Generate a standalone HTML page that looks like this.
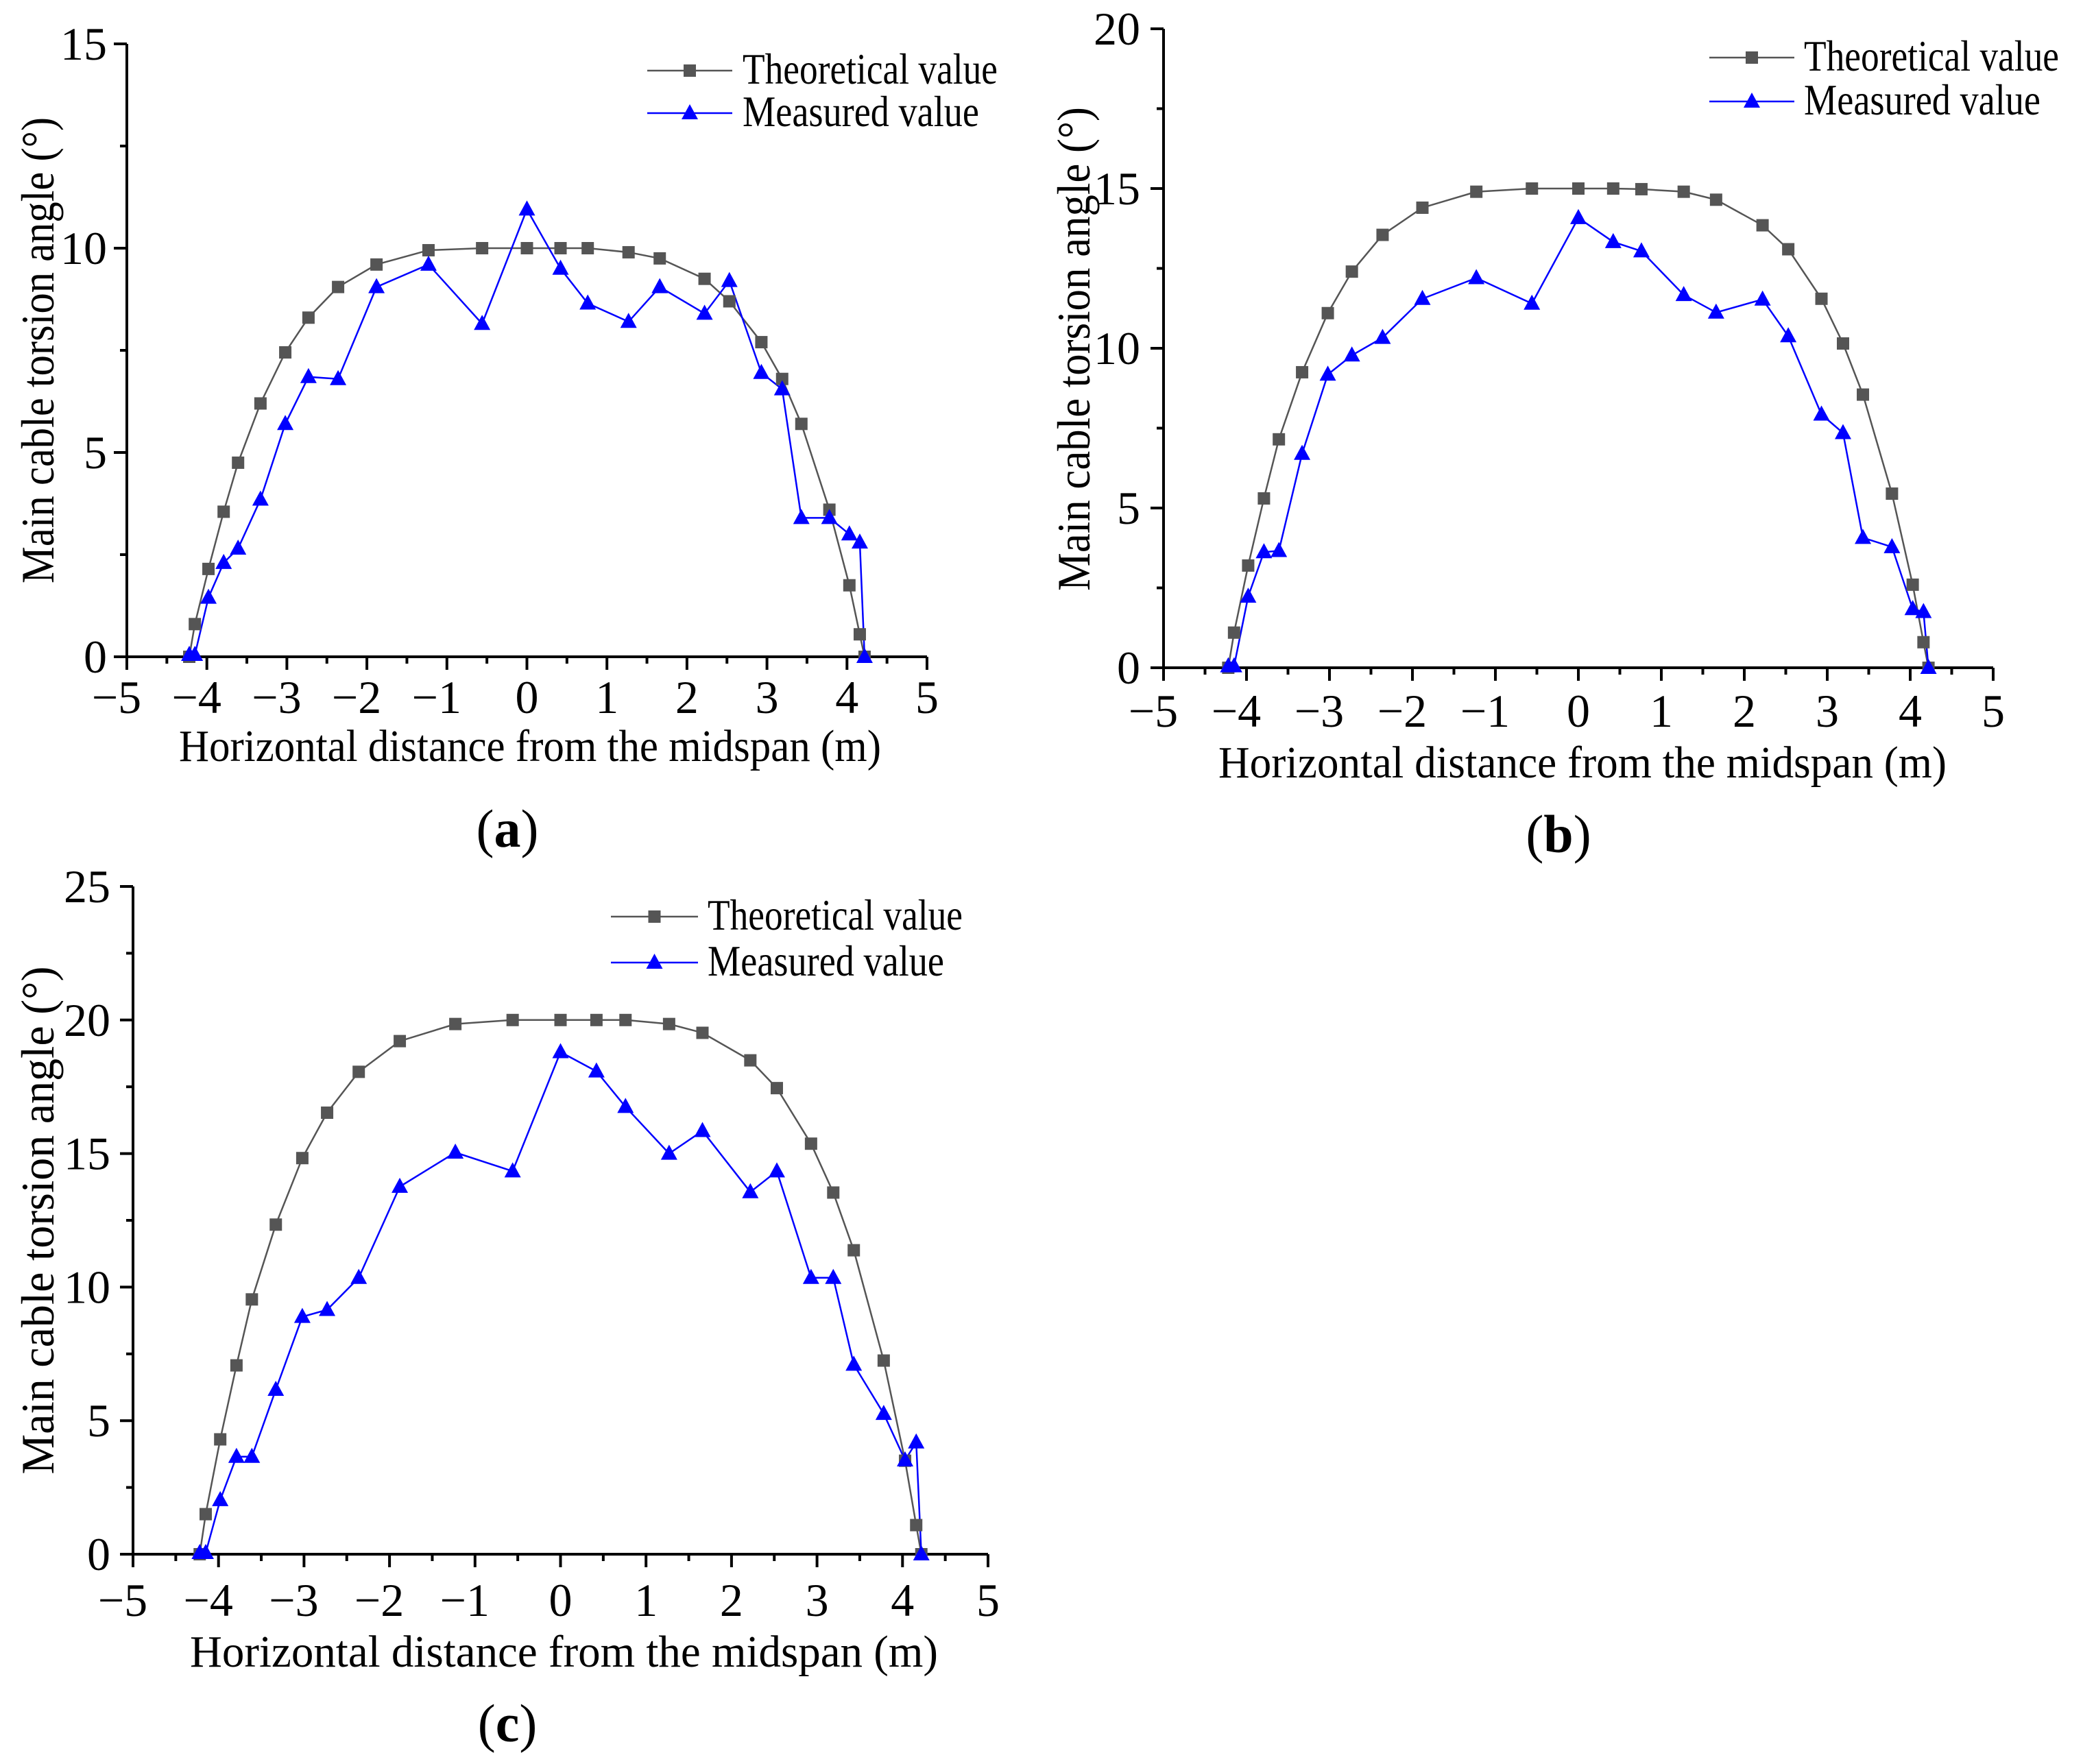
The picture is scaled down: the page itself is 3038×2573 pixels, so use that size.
<!DOCTYPE html>
<html><head><meta charset="utf-8"><style>
html,body{margin:0;padding:0;background:#fff;}
svg{display:block;}
text{font-family:"Liberation Serif","Times New Roman",serif;fill:#000;}
</style></head>
<body>
<svg id="chart" width="3038" height="2573" viewBox="0 0 3038 2573" xmlns="http://www.w3.org/2000/svg"></svg>
<script>
// shared x positions (m)
const xPos = [-4.22,-4.15,-3.98,-3.79,-3.61,-3.33,-3.02,-2.73,-2.36,-1.88,-1.23,-0.56,0,0.42,0.76,1.27,1.66,2.22,2.53,2.93,3.19,3.43,3.78,4.03,4.16,4.22];
// panel (a)
const theoA = [0,0.8,2.15,3.55,4.75,6.2,7.45,8.3,9.05,9.6,9.95,10,10,10,10,9.9,9.75,9.25,8.7,7.7,6.8,5.7,3.6,1.75,0.55,0];
const measA = [0.05,0.05,1.45,2.3,2.65,3.85,5.7,6.85,6.8,9.05,9.6,8.15,10.95,9.5,8.65,8.2,9.05,8.4,9.2,6.95,6.55,3.4,3.4,3.0,2.8,0];
// panel (b)
const theoB = [0,1.1,3.2,5.3,7.15,9.25,11.1,12.4,13.55,14.4,14.9,15,15,15,14.98,14.9,14.65,13.85,13.1,11.55,10.15,8.55,5.45,2.6,0.8,0];
const measB = [0.05,0.05,2.23,3.62,3.66,6.7,9.18,9.78,10.33,11.55,12.2,11.4,14.08,13.33,13.04,11.67,11.12,11.53,10.38,7.93,7.35,4.07,3.78,1.84,1.75,0];
// panel (c)
const theoC = [0,1.5,4.3,7.07,9.54,12.34,14.83,16.53,18.06,19.21,19.85,20,20,20,20,19.85,19.52,18.49,17.45,15.37,13.54,11.38,7.25,3.5,1.09,0];
const measC = [0.05,0.05,2.03,3.65,3.65,6.16,8.89,9.15,10.35,13.76,15.04,14.34,18.8,18.08,16.75,15.0,15.85,13.56,14.34,10.35,10.35,7.1,5.26,3.52,4.19,0];
const xTicks = [-5,-4,-3,-2,-1,0,1,2,3,4,5];
const yTicksA = [0,5,10,15];
const yTicksB = [0,5,10,15,20];
const yTicksC = [0,5,10,15,20,25];

const NS = "http://www.w3.org/2000/svg";
const svg = document.getElementById('chart');
function mk(tag, attrs, parent){
  const e = document.createElementNS(NS, tag);
  for (const k in attrs) e.setAttribute(k, attrs[k]);
  (parent||svg).appendChild(e);
  return e;
}
function fmt(v){ return v<0 ? '\u2212'+Math.abs(v) : String(v); }

function panel(cfg){
  const g = mk('g', {});
  
  
  const xs = v => cfg.xL + (v + 5) / 10 * (cfg.xR - cfg.xL);
  const ys = v => cfg.y0 - v / cfg.yMax * (cfg.y0 - cfg.yTop);
  const xa = mk('line', {x1: cfg.xL - 18, y1: cfg.y0, x2: cfg.xR, y2: cfg.y0, stroke: '#000', 'stroke-width': 4}, g);
  
  
  const ya = mk('line', {x1: cfg.xL, y1: cfg.y0 + 18, x2: cfg.xL, y2: cfg.yTop, stroke: '#000', 'stroke-width': 4}, g);
  
  
  xTicks.forEach((t, i) => {
    mk('line', {x1: xs(t), y1: cfg.y0, x2: xs(t), y2: cfg.y0 + 19, stroke: '#000', 'stroke-width': 4}, g);
    if (i < xTicks.length - 1) mk('line', {x1: xs(t + 0.5), y1: cfg.y0, x2: xs(t + 0.5), y2: cfg.y0 + 10, stroke: '#000', 'stroke-width': 4}, g);
    const tl = mk('text', {x: xs(t) - (t < 0 ? 15 : 0), y: cfg.xLabY + 6, 'font-size': 68, 'text-anchor': 'middle'}, g);
    tl.textContent = fmt(t);
    
    
  });
  const yt = cfg.yTicks;
  yt.forEach((t, i) => {
    mk('line', {x1: cfg.xL, y1: ys(t), x2: cfg.xL - 19, y2: ys(t), stroke: '#000', 'stroke-width': 4}, g);
    if (i < yt.length - 1) mk('line', {x1: cfg.xL, y1: ys(t + 2.5), x2: cfg.xL - 10, y2: ys(t + 2.5), stroke: '#000', 'stroke-width': 4}, g);
    const tl = mk('text', {x: cfg.yLabX, y: ys(t) + 23, 'font-size': 68, 'text-anchor': 'end'}, g);
    tl.textContent = String(t);
    
    
  });
  const pT = xPos.map((x, i) => xs(x) + ',' + ys(cfg.theo[i])).join(' ');
  const lt = mk('polyline', {points: pT, fill: 'none', stroke: '#555', 'stroke-width': 2.5}, g);
  
  
  const pM = xPos.map((x, i) => xs(x) + ',' + ys(cfg.meas[i])).join(' ');
  const lm = mk('polyline', {points: pM, fill: 'none', stroke: '#0000ff', 'stroke-width': 2.5}, g);
  
  
  xPos.forEach((x, i) => {
    const cx = xs(x), cy = ys(cfg.theo[i]);
    const s = mk('rect', {x: cx - 9, y: cy - 9, width: 18, height: 18, fill: '#555'}, g);
    
    
  });
  xPos.forEach((x, i) => {
    const cx = xs(x), cy = ys(cfg.meas[i]);
    const tr = mk('polygon', {points: `${cx},${cy-13} ${cx-12},${cy+9} ${cx+12},${cy+9}`, fill: '#0000ff'}, g);
    
    
  });
  const L = cfg.leg;
  const le1 = mk('g', {}, g);
  
  
  mk('line', {x1: L.x1, y1: L.y1, x2: L.x2, y2: L.y1, stroke: '#555', 'stroke-width': 2.5}, le1);
  const mx = (L.x1 + L.x2) / 2;
  mk('rect', {x: mx - 9, y: L.y1 - 9, width: 18, height: 18, fill: '#555'}, le1);
  const t1 = mk('text', {x: L.tx, y: L.y1 + 19, 'font-size': 64, textLength: 372, lengthAdjust: 'spacingAndGlyphs'}, le1);
  t1.textContent = 'Theoretical value';
  const le2 = mk('g', {}, g);
  
  
  mk('line', {x1: L.x1, y1: L.y2, x2: L.x2, y2: L.y2, stroke: '#0000ff', 'stroke-width': 2.5}, le2);
  mk('polygon', {points: `${mx},${L.y2-13} ${mx-12},${L.y2+9} ${mx+12},${L.y2+9}`, fill: '#0000ff'}, le2);
  const t2 = mk('text', {x: L.tx, y: L.y2 + 19, 'font-size': 64, textLength: 345, lengthAdjust: 'spacingAndGlyphs'}, le2);
  t2.textContent = 'Measured value';
  const xt = mk('text', {x: cfg.xt.x1, y: cfg.xt.y, 'font-size': 66, textLength: cfg.xt.len, lengthAdjust: 'spacingAndGlyphs'}, g);
  xt.textContent = 'Horizontal distance from the midspan (m)';
  
  
  const ytt = mk('text', {x: 0, y: 0, 'font-size': 68, 'text-anchor': 'middle', textLength: cfg.yt.len, lengthAdjust: 'spacingAndGlyphs', transform: `translate(${cfg.yt.x},${cfg.yt.cy}) rotate(-90)`}, g);
  ytt.textContent = 'Main cable torsion angle (\u00B0)';
  
  
  const pl = mk('text', {x: cfg.pl.x, y: cfg.pl.y, 'font-size': 78, 'text-anchor': 'middle'}, g);
  pl.innerHTML = '(<tspan font-weight="bold">' + cfg.id + '</tspan>)';
  
  
}

panel({id: 'a', xL: 185, xR: 1352, y0: 958, yTop: 64, yMax: 15, yTicks: yTicksA, theo: theoA, meas: measA,
  xLabY: 1034, yLabX: 156,
  leg: {x1: 944, x2: 1068, y1: 103, y2: 165, tx: 1083},
  xt: {x1: 261, y: 1110, len: 1024}, yt: {x: 78, cy: 511, len: 680}, pl: {x: 740, y: 1235}});
panel({id: 'b', xL: 1697, xR: 2907, y0: 974, yTop: 42, yMax: 20, yTicks: yTicksB, theo: theoB, meas: measB,
  xLabY: 1054, yLabX: 1663,
  leg: {x1: 2493, x2: 2617, y1: 84, y2: 148, tx: 2631},
  xt: {x1: 1777, y: 1134, len: 1062}, yt: {x: 1589, cy: 509, len: 706}, pl: {x: 2273, y: 1243}});
panel({id: 'c', xL: 194, xR: 1441, y0: 2267, yTop: 1293, yMax: 25, yTicks: yTicksC, theo: theoC, meas: measC,
  xLabY: 2351, yLabX: 161,
  leg: {x1: 891, x2: 1018, y1: 1337, y2: 1404, tx: 1032},
  xt: {x1: 277, y: 2431, len: 1091}, yt: {x: 78, cy: 1780, len: 741}, pl: {x: 740, y: 2540}});
</script>
</body></html>
